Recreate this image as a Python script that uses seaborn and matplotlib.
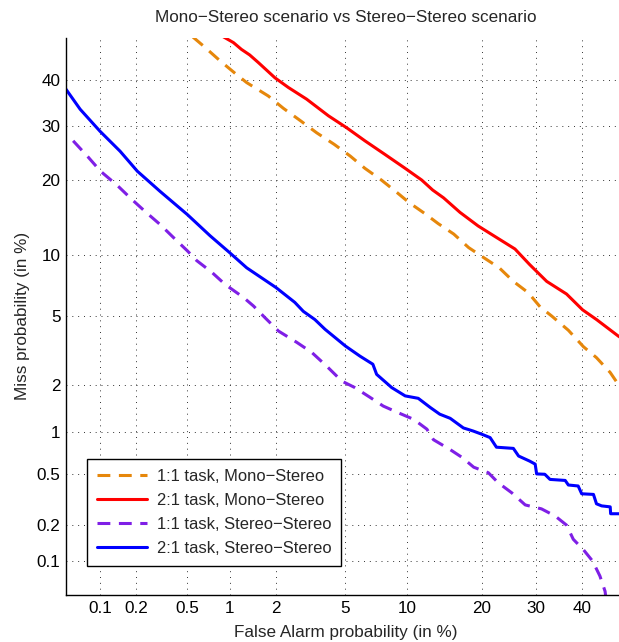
import math
from statistics import NormalDist
import numpy as np
import pandas as pd
import matplotlib
matplotlib.use("Agg")
import matplotlib.pyplot as plt
import seaborn as sns

# ---------------- data (percent) ----------------
mono11_fa = [0.55, 0.655, 0.86, 1.09, 1.3, 1.79, 2.22, 2.8, 3.48, 4.36, 5.3, 6.3, 7.6, 9.0,
             10.2, 12.0, 13.6, 15.7, 17.9, 20.3, 23.0, 25.6, 28.5, 30.9, 33.4, 37.0, 40.4,
             43.4, 46.6, 48.5, 50.0]
mono11_miss = [50.1, 48.0, 44.5, 41.6, 39.5, 36.5, 33.8, 31.2, 28.7, 26.4, 24.2, 22.0, 20.0, 18.0,
               16.5, 14.9, 13.6, 12.3, 10.75, 9.7, 8.7, 7.5, 6.6, 5.6, 5.0, 4.2, 3.4,
               2.94, 2.4, 2.03, 1.8]

mono21_fa = [0.88, 1.06, 1.2, 1.36, 1.55, 1.97, 2.38, 3.05, 4.05, 5.08, 6.3, 7.9, 9.8, 11.6,
             12.9, 14.3, 16.6, 19.4, 22.5, 25.9, 28.8, 32.3, 36.6, 40.2, 43.4, 45.0, 48.5, 50.0]
mono21_miss = [50.4, 48.8, 47.2, 45.9, 44.1, 40.6, 38.4, 35.8, 32.2, 29.7, 27.1, 24.5, 22.0, 20.0,
               18.4, 17.2, 15.1, 13.3, 11.9, 10.6, 9.0, 7.5, 6.5, 5.4, 4.8, 4.5, 3.9, 3.7]

stereo11_fa = [0.058, 0.079, 0.101, 0.139, 0.184, 0.241, 0.31, 0.405, 0.5, 0.585, 0.75, 0.93,
               1.24, 1.44, 1.71, 2.07, 2.67, 3.27, 3.96, 4.78, 5.6, 6.7, 7.75, 9.1, 10.7, 12.2,
               13.0, 15.2, 16.9, 18.7, 21.1, 22.8, 25.3, 27.9, 31.2, 34.1, 36.6, 38.1, 40.4,
               42.5, 44.2, 45.4, 45.8]
stereo11_miss = [27.1, 24.0, 21.5, 19.2, 17.0, 15.1, 13.5, 11.7, 10.4, 9.4, 8.3, 7.25,
                 6.24, 5.65, 4.9, 4.16, 3.6, 3.15, 2.62, 2.13, 1.94, 1.68, 1.48, 1.34, 1.21, 1.04,
                 0.88, 0.75, 0.66, 0.56, 0.51, 0.43, 0.36, 0.29, 0.27, 0.237, 0.2, 0.153, 0.125,
                 0.1, 0.074, 0.054, 0.04]

stereo21_fa = [0.05, 0.067, 0.1, 0.148, 0.205, 0.31, 0.5, 0.73, 1.0, 1.3, 2.0, 2.6, 2.92, 3.4,
               3.88, 5.0, 5.95, 6.9, 7.2, 8.5, 9.8, 11.2, 12.6, 13.8, 15.2, 17.1, 18.6, 20.0,
               21.4, 22.5, 25.6, 26.6, 28.8, 29.9, 30.2, 31.9, 33.0, 36.3, 37.0, 39.2, 40.0,
               42.7, 43.4, 44.6, 46.6, 46.7, 48.5, 50.0]
stereo21_miss = [38.0, 33.6, 29.0, 25.1, 21.5, 18.2, 14.8, 12.1, 10.2, 8.7, 7.0, 5.9, 5.3, 4.8,
                 4.25, 3.43, 3.0, 2.69, 2.34, 1.94, 1.72, 1.66, 1.45, 1.31, 1.23, 1.06, 1.01, 0.96,
                 0.91, 0.78, 0.765, 0.675, 0.62, 0.59, 0.5, 0.497, 0.455, 0.447, 0.413, 0.406, 0.354,
                 0.35, 0.296, 0.285, 0.28, 0.247, 0.247, 0.247]

series_labels = ["1:1 task, Mono\u2212Stereo", "2:1 task, Mono\u2212Stereo",
                 "1:1 task, Stereo\u2212Stereo", "2:1 task, Stereo\u2212Stereo"]
series_colors = ["#E6870B", "#FF0000", "#7F1FE6", "#0000FF"]
series_dashed = [True, False, True, False]

tick_values = [0.1, 0.2, 0.5, 1, 2, 5, 10, 20, 30, 40]
tick_labels = ["0.1", "0.2", "0.5", "1", "2", "5", "10", "20", "30", "40"]

# ---------------- probit scale ----------------
_nd = NormalDist()


def _ppf_one(p):
    try:
        q = p / 100.0
        if not np.isfinite(q):
            return np.nan
        q = min(max(q, 1e-12), 1 - 1e-12)
        return _nd.inv_cdf(q)
    except Exception:
        return np.nan


def _cdf_one(z):
    try:
        return 100.0 * _nd.cdf(z)
    except Exception:
        return np.nan


_ppf_v = np.vectorize(_ppf_one, otypes=[float])
_cdf_v = np.vectorize(_cdf_one, otypes=[float])


def fwd(p):
    return _ppf_v(np.asarray(p, dtype=float))


def inv(z):
    return _cdf_v(np.asarray(z, dtype=float))


# ---------------- plot ----------------
sns.set_style("white")
plt.rcParams["font.family"] = ["Liberation Sans", "DejaVu Sans"]
FS = 12.3
plt.rcParams["font.size"] = FS

fig = plt.figure(figsize=(6.19, 6.42), dpi=100)
ax = fig.add_axes([66 / 619, 47 / 642, 558.7 / 619, 557.5 / 642])
ax.set_xscale("function", functions=(fwd, inv))
ax.set_yscale("function", functions=(fwd, inv))

all_fa = [mono11_fa, mono21_fa, stereo11_fa, stereo21_fa]
all_miss = [mono11_miss, mono21_miss, stereo11_miss, stereo21_miss]
for fa, miss, lab, col, dashed in zip(all_fa, all_miss, series_labels, series_colors, series_dashed):
    df = pd.DataFrame({"fa": fa, "miss": miss})
    sns.lineplot(data=df, x="fa", y="miss", ax=ax, color=col, label=lab,
                 linewidth=2.2, estimator=None, sort=False,
                 linestyle=(0, (4.2, 2.8)) if dashed else "-")

ax.set_xlim(0.05, 50)
ax.set_ylim(0.05, 50)
ax.set_xticks(tick_values)
ax.set_xticklabels(tick_labels)
ax.set_yticks(tick_values)
ax.set_yticklabels(tick_labels)
ax.minorticks_off()

ax.grid(True, color="#333333", linestyle=(0, (1, 5)), linewidth=0.7)
ax.tick_params(direction="in", length=3.5, width=0.8, colors="black", labelsize=FS, pad=4)
for side in ["top", "right"]:
    ax.spines[side].set_visible(False)
for side in ["left", "bottom"]:
    ax.spines[side].set_color("black")
    ax.spines[side].set_linewidth(1.0)

ax.set_title("Mono\u2212Stereo scenario vs Stereo\u2212Stereo scenario", fontsize=FS, pad=11)
ax.set_xlabel("False Alarm probability (in %)", fontsize=FS, labelpad=7)
ax.set_ylabel("Miss probability (in %)", fontsize=FS, labelpad=5)

LFS = 11.9
leg = ax.legend(loc="lower left", bbox_to_anchor=(0.037, 0.052), borderaxespad=0,
                fontsize=LFS, handlelength=3.05, handletextpad=0.6, labelspacing=0.55,
                borderpad=0.6, fancybox=False, framealpha=1.0)
leg.get_frame().set_edgecolor("black")
leg.get_frame().set_linewidth(1.0)

fig.savefig("out.png", dpi=100)
